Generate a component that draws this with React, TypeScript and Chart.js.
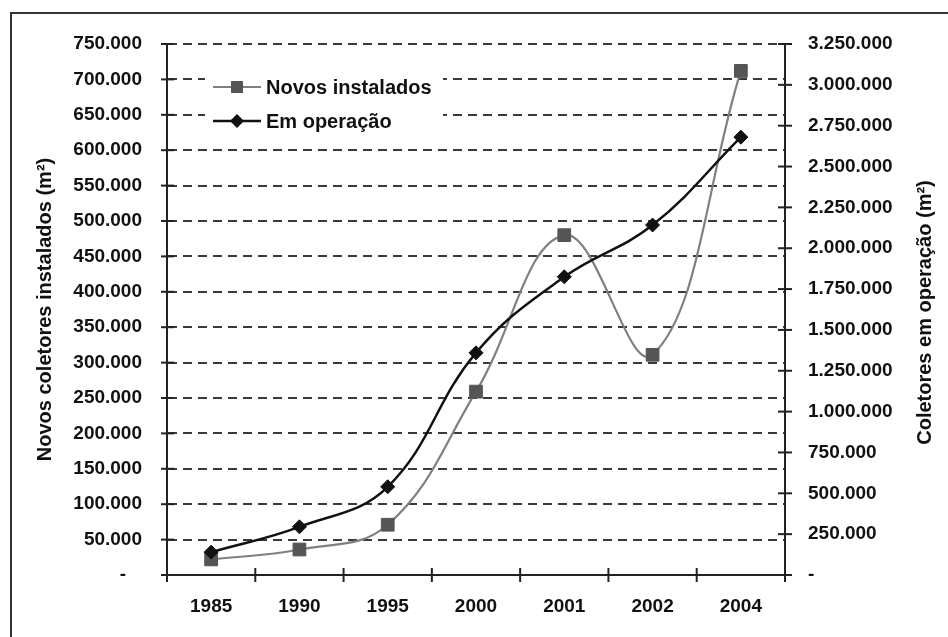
import React, { useEffect, useRef } from "react";
import { Chart, registerables } from "chart.js";

Chart.register(...registerables);

const years = ["1985", "1990", "1995", "2000", "2001", "2002", "2004"];
const novosInstalados = [22000, 36000, 71000, 259000, 480000, 311000, 712000];
const emOperacao = [140000, 295000, 540000, 1360000, 1825000, 2142000, 2680000];
const leftTitle = "Novos coletores instalados (m²)";
const rightTitle = "Coletores em operação (m²)";
const seriesLabels = ["Novos instalados", "Em operação"];

const FONT = "'Liberation Sans', Arial, sans-serif";

function fmt(v: number): string {
  if (v === 0) return "-";
  return String(Math.round(v)).replace(/\B(?=(\d{3})+(?!\d))/g, ".");
}

const customPlugin = {
  id: "custom",
  afterDraw(chart: any) {
    const ctx = chart.ctx;
    const ca = chart.chartArea;
    const yL = chart.scales.y;
    const yR = chart.scales.y1;
    const x = chart.scales.x;
    ctx.save();
    ctx.strokeStyle = "#222";
    ctx.lineWidth = 2;
    yL.ticks.forEach((t: any) => {
      const py = yL.getPixelForValue(t.value);
      ctx.beginPath();
      ctx.moveTo(ca.left - 6, py);
      ctx.lineTo(ca.left + 7, py);
      ctx.stroke();
    });
    yR.ticks.forEach((t: any) => {
      const py = yR.getPixelForValue(t.value);
      ctx.beginPath();
      ctx.moveTo(ca.right - 7, py);
      ctx.lineTo(ca.right + 7, py);
      ctx.stroke();
    });
    const n = years.length;
    for (let i = 0; i <= n; i++) {
      let px;
      if (i === 0) px = ca.left;
      else if (i === n) px = ca.right;
      else px = (x.getPixelForValue(i - 1) + x.getPixelForValue(i)) / 2;
      ctx.beginPath();
      ctx.moveTo(px, ca.bottom - 7);
      ctx.lineTo(px, ca.bottom + 7);
      ctx.stroke();
    }

    // legend
    ctx.fillStyle = "#ffffff";
    ctx.fillRect(ca.left + 38, ca.top + 26, 238, 62);
    const ds = chart.data.datasets;
    const rows = [ca.top + 43, ca.top + 77];
    ds.forEach((d: any, i: number) => {
      const ry = rows[i];
      const lx0 = ca.left + 46;
      const lx1 = ca.left + 94;
      ctx.strokeStyle = d.borderColor;
      ctx.lineWidth = d.borderWidth;
      ctx.beginPath();
      ctx.moveTo(lx0, ry);
      ctx.lineTo(lx1, ry);
      ctx.stroke();
      const mx = (lx0 + lx1) / 2;
      ctx.fillStyle = d.pointBackgroundColor;
      ctx.beginPath();
      if (d.pointStyle === "rect") {
        ctx.rect(mx - 6, ry - 6, 12, 12);
      } else {
        ctx.moveTo(mx - 7, ry);
        ctx.lineTo(mx, ry - 7);
        ctx.lineTo(mx + 7, ry);
        ctx.lineTo(mx, ry + 7);
        ctx.closePath();
      }
      ctx.fill();
      ctx.fillStyle = "#111";
      ctx.font = `bold 20px ${FONT}`;
      ctx.textAlign = "left";
      ctx.textBaseline = "middle";
      ctx.fillText(d.label, lx1 + 5, ry + 1);
    });

    // axis titles
    ctx.fillStyle = "#111";
    ctx.font = `bold 20px ${FONT}`;
    ctx.textAlign = "center";
    ctx.textBaseline = "middle";
    ctx.save();
    ctx.translate(45, (ca.top + ca.bottom) / 2);
    ctx.rotate(-Math.PI / 2);
    ctx.fillText(leftTitle, 0, 0);
    ctx.restore();
    ctx.save();
    ctx.translate(925, (ca.top + ca.bottom) / 2 + 3);
    ctx.rotate(-Math.PI / 2);
    ctx.fillText(rightTitle, 0, 0);
    ctx.restore();
    ctx.restore();
  },
};

export default function App() {
  const ref = useRef<HTMLCanvasElement | null>(null);
  useEffect(() => {
    const canvas = ref.current!;
    const chart = new Chart(canvas, {
      type: "line",
      data: {
        labels: years,
        datasets: [
          {
            label: seriesLabels[0],
            data: novosInstalados,
            yAxisID: "y",
            borderColor: "#808080",
            borderWidth: 2.2,
            pointStyle: "rect",
            pointRadius: 9,
            pointBackgroundColor: "#555555",
            pointBorderColor: "#555555",
            pointBorderWidth: 1,
            tension: 0.4,
            fill: false,
            order: 1,
          },
          {
            label: seriesLabels[1],
            data: emOperacao,
            yAxisID: "y1",
            borderColor: "#111111",
            borderWidth: 2.5,
            pointStyle: "rectRot",
            pointRadius: 7,
            pointBackgroundColor: "#111111",
            pointBorderColor: "#111111",
            pointBorderWidth: 1,
            tension: 0.4,
            fill: false,
            order: 0,
          },
        ],
      },
      options: {
        responsive: false,
        animation: false,
        devicePixelRatio: 1,
        layout: { padding: { top: 44, left: 0, right: 0, bottom: 0 } },
        plugins: { legend: { display: false }, tooltip: { enabled: false } },
        scales: {
          x: {
            type: "category",
            offset: true,
            grid: { display: false, drawTicks: false },
            border: { display: true, color: "#222", width: 2 },
            ticks: {
              color: "#111",
              font: { family: FONT, size: 19, weight: "bold" },
              padding: 20,
              maxRotation: 0,
            },
            afterFit: (s: any) => {
              s.height = 62;
            },
          },
          y: {
            position: "left",
            min: 0,
            max: 750000,
            grid: {
              display: true,
              drawTicks: false,
              color: "#3a3a3a",
              lineWidth: 2,
            },
            border: { display: true, color: "#222", width: 2, dash: [9, 6] },
            ticks: {
              stepSize: 50000,
              color: "#111",
              font: { family: FONT, size: 19, weight: "bold" },
              padding: 25,
              callback: (v: any) => (v === 0 ? "-   " : fmt(Number(v))),
            },
            afterFit: (s: any) => {
              s.width = 167;
            },
          },
          y1: {
            position: "right",
            min: 0,
            max: 3250000,
            grid: { display: false, drawTicks: false },
            border: { display: true, color: "#222", width: 2 },
            ticks: {
              stepSize: 250000,
              color: "#111",
              font: { family: FONT, size: 19, weight: "bold" },
              padding: 23,
              callback: (v: any) => fmt(Number(v)),
            },
            afterFit: (s: any) => {
              s.width = 163;
            },
          },
        },
      },
      plugins: [customPlugin],
    } as any);
    return () => chart.destroy();
  }, []);

  return (
    <div
      style={{
        position: "fixed",
        left: 0,
        top: 0,
        width: 948,
        height: 637,
        overflow: "hidden",
        background: "#fff",
      }}
    >
      <div
        style={{
          position: "absolute",
          left: 10,
          top: 12,
          width: 980,
          height: 700,
          border: "2px solid #333",
          boxSizing: "border-box",
        }}
      />
      <canvas
        ref={ref}
        width={948}
        height={637}
        style={{ position: "absolute", left: 0, top: 0, width: 948, height: 637 }}
      />
    </div>
  );
}
